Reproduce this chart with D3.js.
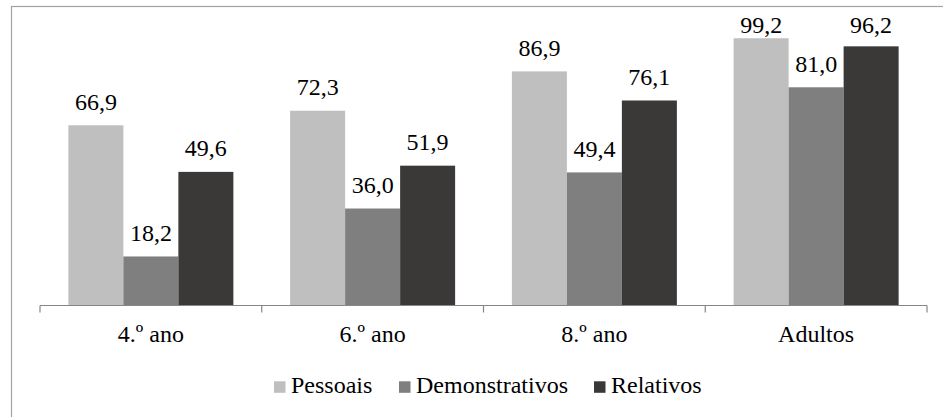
<!DOCTYPE html>
<html>
<head>
<meta charset="utf-8">
<script src="https://cdn.jsdelivr.net/npm/d3@7"></script>
</head>
<body style="margin:0">
<svg id="chart" width="943" height="417"></svg>
<script>
// data
const categories = ["4.º ano", "6.º ano", "8.º ano", "Adultos"];
const seriesNames = ["Pessoais", "Demonstrativos", "Relativos"];
const pessoais = [66.9, 72.3, 86.9, 99.2];
const demonstrativos = [18.2, 36.0, 49.4, 81.0];
const relativos = [49.6, 51.9, 76.1, 96.2];
const colors = ["#BFBFBF", "#7F7F7F", "#3B3938"];

const FONT = "\"Liberation Serif\", monospace";
const svg = d3.select("#chart");

// outer frame (right/bottom edges fall outside the picture)
svg.append("rect")
   .attr("x", 11.5).attr("y", 6.5)
   .attr("width", 1000).attr("height", 500)
   .attr("fill", "none")
   .attr("stroke", "#A3A3A3")
   .attr("stroke-width", 1.2);

const series = [pessoais, demonstrativos, relativos];
const rows = categories.map((c, i) => ({cat: c, vals: series.map(s => s[i])}));

const x0 = d3.scaleBand().domain(categories).range([40, 927]).paddingInner(0).paddingOuter(0);
const x1 = d3.scaleBand().domain(seriesNames)
             .range([0, x0.bandwidth()])
             .paddingInner(0).paddingOuter(0.516);
const y = d3.scaleLinear().domain([0, 100]).range([305.5, 36.1]);

const fmt = v => d3.format(".1f")(v).replace(".", ",");

// bars
const groups = svg.selectAll("g.grp")
   .data(rows)
   .enter().append("g")
   .attr("class", "grp")
   .attr("transform", d => "translate(" + x0(d.cat) + ",0)");

groups.selectAll("rect")
   .data(d => d.vals.map((v, j) => ({name: seriesNames[j], v: v, j: j})))
   .enter().append("rect")
   .attr("x", d => x1(d.name))
   .attr("width", x1.bandwidth())
   .attr("y", d => y(d.v))
   .attr("height", d => y(0) - y(d.v))
   .attr("fill", d => colors[d.j]);

// value labels (Excel pushes them down near the top of the plot area)
groups.selectAll("text")
   .data(d => d.vals.map((v, j) => ({name: seriesNames[j], v: v, j: j})))
   .enter().append("text")
   .attr("x", d => x1(d.name) + x1.bandwidth() / 2)
   .attr("y", d => Math.max(y(d.v) - 15.5, 33))
   .attr("text-anchor", "middle")
   .attr("font-size", 24)
   .style("font-family", FONT)
   .text(d => fmt(d.v));

// x axis
const axis = svg.append("g").attr("transform", "translate(0,305.5)");
axis.append("line")
    .attr("x1", 40).attr("x2", 927)
    .attr("stroke", "#868686").attr("stroke-width", 1.2);
const bounds = categories.map(c => x0(c)).concat([x0.range()[1]]);
axis.selectAll("line.tick")
    .data(bounds)
    .enter().append("line")
    .attr("class", "tick")
    .attr("x1", d => d).attr("x2", d => d)
    .attr("y1", 0).attr("y2", 7)
    .attr("stroke", "#868686").attr("stroke-width", 1.2);
axis.selectAll("text")
    .data(categories)
    .enter().append("text")
    .attr("x", d => x0(d) + x0.bandwidth() / 2)
    .attr("y", 36.2)
    .attr("text-anchor", "middle")
    .attr("font-size", 24)
    .style("font-family", FONT)
    .text(d => d);

// legend, centred under the plot
const legendWidths = [80, 150, 90]; // approx text widths, refined below
const legend = svg.append("g");
const items = legend.selectAll("g")
    .data(seriesNames)
    .enter().append("g");
items.append("rect")
    .attr("width", 11.5).attr("height", 11.5)
    .attr("y", 381.3)
    .attr("fill", (d, i) => colors[i]);
items.append("text")
    .attr("x", 17)
    .attr("y", 392.7)
    .attr("font-size", 24)
    .style("font-family", FONT)
    .text(d => d);

let pos = 0;
const offs = [];
items.each(function(d, i) {
  offs.push(pos);
  pos += 17 + legendWidths[i] + 28;
});
const start = 487.5 - (pos - 28) / 2;
items.attr("transform", (d, i) => "translate(" + (start + offs[i]) + ",0)");
</script>
</body>
</html>
